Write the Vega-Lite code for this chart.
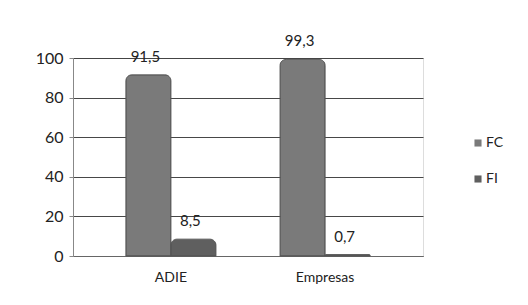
{
  "$schema": "https://vega.github.io/schema/vega-lite/v6.json",
  "autosize": "none",
  "width": 350,
  "height": 198,
  "padding": {"left": 73, "top": 58, "right": 105, "bottom": 49},
  "background": "white",
  "data": {
    "values": [
      {"grupo": "ADIE", "serie": "FC", "valor": 91.5, "lab": "91,5"},
      {"grupo": "ADIE", "serie": "FI", "valor": 8.5, "lab": "8,5"},
      {"grupo": "Empresas", "serie": "FC", "valor": 99.3, "lab": "99,3"},
      {"grupo": "Empresas", "serie": "FI", "valor": 0.7, "lab": "0,7"}
    ]
  },
  "encoding": {
    "x": {
      "field": "grupo",
      "type": "nominal",
      "title": null,
      "scale": {"paddingInner": 0.416, "paddingOuter": 0.343},
      "axis": {
        "labelAngle": 0,
        "labelFont": "Lato",
        "labelFontSize": 14,
        "labelColor": "#222",
        "labelPadding": 14,
        "labelDx": -18,
        "ticks": false,
        "domainColor": "#666",
        "grid": false
      }
    },
    "xOffset": {"field": "serie", "type": "nominal", "scale": {"paddingInner": 0}},
    "y": {
      "field": "valor",
      "type": "quantitative",
      "title": null,
      "scale": {"domain": [0, 100], "nice": false},
      "axis": {
        "values": [0, 20, 40, 60, 80, 100],
        "labelFont": "Lato",
        "labelFontSize": 16,
        "labelColor": "#222",
        "tickSize": 4,
        "tickColor": "#888",
        "labelPadding": 6,
        "domainColor": "#888",
        "gridColor": "#333",
        "gridWidth": 1,
        "gridOpacity": 0.9
      }
    }
  },
  "layer": [
    {
      "mark": {"type": "bar", "stroke": "#555", "strokeWidth": 1, "cornerRadiusTopLeft": 6, "cornerRadiusTopRight": 6, "clip": false},
      "encoding": {
        "color": {
          "field": "serie",
          "type": "nominal",
          "title": null,
          "scale": {"domain": ["FC", "FI"], "range": ["#7a7a7a", "#5f5f5f"]},
          "legend": {
            "orient": "none",
            "legendX": 398,
            "legendY": 78,
            "symbolType": "square",
            "symbolSize": 50,
            "symbolStrokeWidth": 0,
            "rowPadding": 22,
            "labelFont": "Lato",
            "labelFontSize": 14,
            "labelColor": "#222",
            "labelOffset": 1
          }
        }
      }
    },
    {
      "mark": {"type": "text", "dy": -10, "dx": -3, "font": "Lato", "fontSize": 15, "color": "#222", "baseline": "bottom"},
      "encoding": {"text": {"field": "lab"}}
    }
  ]
}
